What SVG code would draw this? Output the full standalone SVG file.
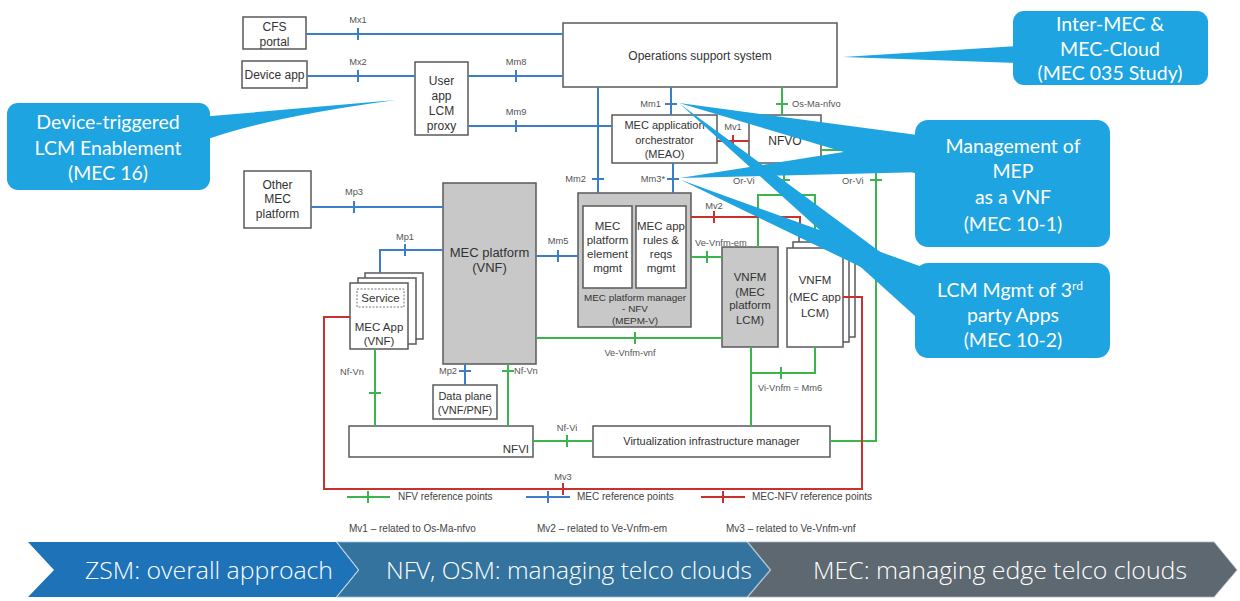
<svg xmlns="http://www.w3.org/2000/svg" width="1240" height="601" viewBox="0 0 1240 601">
  <style>
    .box { fill: #ffffff; stroke: #595959; stroke-width: 1.5; }
    .gbox { fill: #c8c8c8; stroke: #595959; stroke-width: 1.5; }
    .dash { fill: none; stroke: #777; stroke-width: 1; stroke-dasharray: 2 1.5; }
    .t { font-family: "Liberation Sans", Arial, sans-serif; fill: #333; text-anchor: middle; font-size: 11.5px; }
    .t12 { font-size: 12px; }
    .t11 { font-size: 11px; }
    .t13 { font-size: 13px; }
    .tsm { font-size: 9.9px; }
    .lbl { font-family: "Liberation Sans", Arial, sans-serif; fill: #555; font-size: 9.3px; text-anchor: middle; }
    .end { text-anchor: end; }
    .start { text-anchor: start; }
    .leg { font-family: "Liberation Sans", Arial, sans-serif; fill: #444; font-size: 10px; }
    .mec { fill: none; stroke: #3b7ec6; stroke-width: 2; }
    .nfv { fill: none; stroke: #3cb450; stroke-width: 2; }
    .mv { fill: none; stroke: #c8312e; stroke-width: 2; }
    .call { fill: #1ea4e0; }
    .ct { font-family: Lato, "Open Sans", sans-serif; fill: #ffffff; font-size: 19.5px; text-anchor: middle; }
    .sup { font-size: 12px; }
    .bt { font-family: "Open Sans", Lato, sans-serif; fill: #ffffff; font-size: 24px; text-anchor: middle; font-weight: 300; }
  </style>

  <rect width="1240" height="601" fill="#ffffff"/>

  <!-- nodes -->
  <g id="cfs-portal">
    <rect class="box" x="243" y="17" width="63" height="32"/>
    <text class="t t12" x="274.5" y="31">CFS</text>
    <text class="t t12" x="274.5" y="46">portal</text>
  </g>
  <g id="device-app">
    <rect class="box" x="242" y="61" width="65" height="27"/>
    <text class="t t12" x="274.5" y="79">Device app</text>
  </g>
  <g id="user-app-lcm-proxy">
    <rect class="box" x="415" y="62" width="53" height="73"/>
    <text class="t t12" x="441.5" y="85">User</text>
    <text class="t t12" x="441.5" y="100">app</text>
    <text class="t t12" x="441.5" y="115">LCM</text>
    <text class="t t12" x="441.5" y="130">proxy</text>
  </g>
  <g id="oss">
    <rect class="box" x="563" y="23" width="274" height="64"/>
    <text class="t t12" x="700" y="60">Operations support system</text>
  </g>
  <g id="meao">
    <rect class="box" x="612" y="115" width="105" height="48"/>
    <text class="t t11" x="664.5" y="129">MEC application</text>
    <text class="t t11" x="664.5" y="144">orchestrator</text>
    <text class="t t11" x="664.5" y="158">(MEAO)</text>
  </g>
  <g id="nfvo">
    <rect class="box" x="749" y="115" width="72" height="48"/>
    <text class="t t12" x="785" y="145">NFVO</text>
  </g>
  <g id="other-mec-platform">
    <rect class="box" x="244" y="171" width="67" height="57"/>
    <text class="t t12" x="277.5" y="189">Other</text>
    <text class="t t12" x="277.5" y="203">MEC</text>
    <text class="t t12" x="277.5" y="218">platform</text>
  </g>
  <g id="mec-platform">
    <rect class="gbox" x="443" y="183" width="93" height="181"/>
    <text class="t t13" x="489.5" y="257">MEC platform</text>
    <text class="t t13" x="489.5" y="272">(VNF)</text>
  </g>
  <g id="mepm-v">
    <rect class="gbox" x="578" y="193" width="113" height="134"/>
    <rect class="box" x="583" y="206" width="49" height="82"/>
    <rect class="box" x="636" y="206" width="50" height="82"/>
    <text class="t" x="607.5" y="230">MEC</text>
    <text class="t" x="607.5" y="244">platform</text>
    <text class="t" x="607.5" y="258">element</text>
    <text class="t" x="607.5" y="272">mgmt</text>
    <text class="t" x="661" y="230">MEC app</text>
    <text class="t" x="661" y="244">rules &amp;</text>
    <text class="t" x="661" y="258">reqs</text>
    <text class="t" x="661" y="272">mgmt</text>
    <text class="t tsm" x="635" y="301">MEC platform manager</text>
    <text class="t tsm" x="635" y="312">- NFV</text>
    <text class="t tsm" x="635" y="324">(MEPM-V)</text>
  </g>
  <g id="vnfm-platform">
    <rect class="gbox" x="722" y="247" width="56" height="100"/>
    <text class="t" x="750" y="281">VNFM</text>
    <text class="t" x="750" y="296">(MEC</text>
    <text class="t" x="750" y="309">platform</text>
    <text class="t" x="750" y="324">LCM)</text>
  </g>
  <g id="vnfm-app">
    <rect class="box" x="799" y="237" width="56" height="100"/>
    <rect class="box" x="793" y="242" width="56" height="100"/>
    <rect class="box" x="787" y="248" width="56" height="99"/>
    <text class="t" x="815" y="284">VNFM</text>
    <text class="t" x="815" y="301">(MEC app</text>
    <text class="t" x="815" y="317">LCM)</text>
  </g>
  <g id="mec-app">
    <rect class="box" x="365" y="273" width="58" height="66"/>
    <rect class="box" x="358" y="278" width="58" height="66"/>
    <rect class="box" x="350" y="283" width="58" height="66"/>
    <rect class="dash" x="357" y="289" width="47" height="18"/>
    <text class="t" x="380.5" y="302">Service</text>
    <text class="t" x="379" y="331">MEC App</text>
    <text class="t" x="379" y="345">(VNF)</text>
  </g>
  <g id="data-plane">
    <rect class="box" x="433" y="385" width="64" height="34"/>
    <text class="t t11" x="465" y="400">Data plane</text>
    <text class="t t11" x="465" y="414">(VNF/PNF)</text>
  </g>
  <g id="nfvi">
    <rect class="box" x="349" y="426" width="184" height="31"/>
    <text class="t end" x="529" y="453">NFVI</text>
  </g>
  <g id="vim">
    <rect class="box" x="593" y="426" width="237" height="31"/>
    <text class="t t11" x="711.5" y="445">Virtualization infrastructure manager</text>
  </g>

  <!-- reference point connectors -->
  <g id="connectors">
    <!-- MEC reference points -->
    <path class="mec" d="M306 34 H563 M358 28 V40"/>
    <path class="mec" d="M307 76 H415 M358 70 V82"/>
    <path class="mec" d="M468 76 H563 M516 70 V82"/>
    <path class="mec" d="M468 126 H612 M516 120 V132"/>
    <path class="mec" d="M598 87 V193 M592 179 H604"/>
    <path class="mec" d="M671 87 V115 M665 104 H677"/>
    <path class="mec" d="M673 163 V193 M667 179 H679"/>
    <path class="mec" d="M311 207 H443 M354 201 V213"/>
    <path class="mec" d="M443 250 H380 V273 M405 244 V256"/>
    <path class="mec" d="M536 256 H578 M558 250 V262"/>
    <path class="mec" d="M465 364 V385 M459 371 H471"/>
    <!-- NFV reference points -->
    <path class="nfv" d="M782 87 V115 M776 104 H788"/>
    <path class="nfv" d="M784 163 V195 M778 180 H790"/>
    <path class="nfv" d="M758 247 V195 H815 V237"/>
    <path class="nfv" d="M821 150 H876 V441 H830 M870 180 H882"/>
    <path class="nfv" d="M691 257 H722 M707 251 V263"/>
    <path class="nfv" d="M536 338 H722 M635 332 V344"/>
    <path class="nfv" d="M751 347 V426 M751 373 H815 V347 M781 367 V379"/>
    <path class="nfv" d="M375 349 V426 M369 393 H381"/>
    <path class="nfv" d="M508 364 V426 M502 371 H514"/>
    <path class="nfv" d="M533 441 H593 M567 435 V447"/>
    <!-- MEC-NFV reference points -->
    <path class="mv" d="M717 141 H749 M733 135 V147"/>
    <path class="mv" d="M691 217 H800 V237 M714 211 V223"/>
    <path class="mv" d="M843 297 H862 V489 H324 V317 H350 M563 483 V495"/>

    <!-- connector labels -->
    <text class="lbl" x="358" y="23">Mx1</text>
    <text class="lbl" x="358" y="65">Mx2</text>
    <text class="lbl" x="516" y="65">Mm8</text>
    <text class="lbl" x="516" y="115">Mm9</text>
    <text class="lbl end" x="661" y="107">Mm1</text>
    <text class="lbl end" x="586" y="182">Mm2</text>
    <text class="lbl end" x="665" y="182">Mm3*</text>
    <text class="lbl start" x="792" y="107">Os-Ma-nfvo</text>
    <text class="lbl" x="733" y="130">Mv1</text>
    <text class="lbl start" x="733" y="184">Or-Vi</text>
    <text class="lbl start" x="842" y="184">Or-Vi</text>
    <text class="lbl" x="714" y="209">Mv2</text>
    <text class="lbl start" x="695" y="246">Ve-Vnfm-em</text>
    <text class="lbl" x="354" y="195">Mp3</text>
    <text class="lbl" x="405" y="240">Mp1</text>
    <text class="lbl" x="558" y="244">Mm5</text>
    <text class="lbl" x="630" y="356">Ve-Vnfm-vnf</text>
    <text class="lbl" x="790" y="391">Vi-Vnfm = Mm6</text>
    <text class="lbl" x="352" y="375">Nf-Vn</text>
    <text class="lbl end" x="457" y="374">Mp2</text>
    <text class="lbl start" x="514" y="374">Nf-Vn</text>
    <text class="lbl" x="567" y="431">Nf-Vi</text>
    <text class="lbl" x="563" y="480">Mv3</text>
  </g>

  <!-- legend -->
  <g id="legend">
    <path class="nfv" d="M347 497 H390 M368 491 V503"/>
    <text class="leg" x="398" y="500">NFV reference points</text>
    <path class="mec" d="M526 497 H570 M548 491 V503"/>
    <text class="leg" x="577" y="500">MEC reference points</text>
    <path class="mv" d="M701 497 H745 M723 491 V503"/>
    <text class="leg" x="752" y="500">MEC-NFV reference points</text>
    <text class="leg" x="349" y="532">Mv1 – related to Os-Ma-nfvo</text>
    <text class="leg" x="537" y="532">Mv2 – related to Ve-Vnfm-em</text>
    <text class="leg" x="726" y="532">Mv3 – related to Ve-Vnfm-vnf</text>
  </g>

  <!-- callouts -->
  <g id="callout-inter-mec">
    <path class="call" d="M843 57 L1020 46 L1020 63 Z"/>
    <rect class="call" x="1013" y="11" width="195" height="74" rx="11"/>
    <text class="ct" x="1110" y="31">Inter-MEC &amp;</text>
    <text class="ct" x="1110" y="56">MEC-Cloud</text>
    <text class="ct" x="1110" y="80">(MEC 035 Study)</text>
  </g>
  <g id="callout-device-lcm">
    <path class="call" d="M200 117 L396 100 Q262 118 200 142 Z"/>
    <rect class="call" x="7" y="103" width="203" height="87" rx="11"/>
    <text class="ct" x="108" y="129">Device-triggered</text>
    <text class="ct" x="108" y="155">LCM Enablement</text>
    <text class="ct" x="108" y="180">(MEC 16)</text>
  </g>
  <g id="callout-mep-vnf">
    <path class="call" d="M679 103 L925 136 L925 176 Z"/>
    <path class="call" d="M680 178 L925 139 L925 172 Z"/>
    <rect class="call" x="915" y="120" width="195" height="127" rx="13"/>
    <text class="ct" x="1013" y="153">Management of</text>
    <text class="ct" x="1013" y="178">MEP</text>
    <text class="ct" x="1013" y="204">as a VNF</text>
    <text class="ct" x="1013" y="231">(MEC 10-1)</text>
  </g>
  <g id="callout-third-party">
    <path class="call" d="M680 104 L925 285 L925 325 Z"/>
    <path class="call" d="M681 180 L925 268 L925 298 Z"/>
    <rect class="call" x="915" y="263" width="195" height="95" rx="13"/>
    <text class="ct" x="1010" y="297">LCM Mgmt of 3<tspan class="sup" dy="-7">rd</tspan></text>
    <text class="ct" x="1013" y="322">party Apps</text>
    <text class="ct" x="1013" y="347">(MEC 10-2)</text>
  </g>

  <!-- bottom banner -->
  <g id="banner">
    <path d="M28 542 H336 L358 570 L336 597 H28 L54 570 Z" fill="#1d72b8"/>
    <path d="M337 542 H747 L770 570 L747 597 H337 L359 570 Z" fill="#33739e" stroke="#9fbfd6" stroke-width="0.8"/>
    <path d="M748 542 H1214 L1237 570 L1214 597 H748 L771 570 Z" fill="#5d6870" stroke="#a9b3ba" stroke-width="0.8"/>
    <text class="bt" x="209" y="579" textLength="248" lengthAdjust="spacingAndGlyphs">ZSM: overall approach</text>
    <text class="bt" x="569" y="579" textLength="366" lengthAdjust="spacingAndGlyphs">NFV, OSM: managing telco clouds</text>
    <text class="bt" x="1000" y="579" textLength="374" lengthAdjust="spacingAndGlyphs">MEC: managing edge telco clouds</text>
  </g>
</svg>
